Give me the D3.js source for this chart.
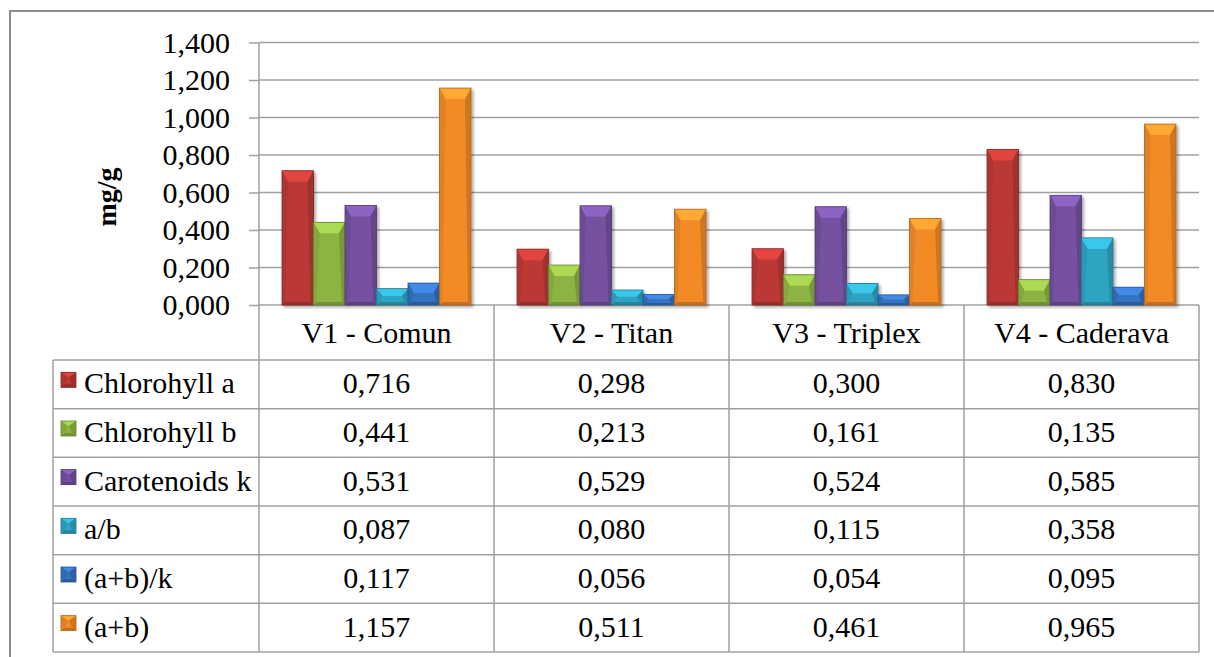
<!DOCTYPE html>
<html>
<head>
<meta charset="utf-8">
<script src="https://cdn.jsdelivr.net/npm/d3@7"></script>
</head>
<body style="margin:0">
<svg></svg>
<script>
const categories = ['V1 - Comun', 'V2 - Titan', 'V3 - Triplex', 'V4 - Caderava'];
const seriesNames = ['Chlorohyll a', 'Chlorohyll b', 'Carotenoids k', 'a/b', '(a+b)/k', '(a+b)'];
const chlorophyllA = [0.716, 0.298, 0.300, 0.830];
const chlorophyllB = [0.441, 0.213, 0.161, 0.135];
const carotenoids = [0.531, 0.529, 0.524, 0.585];
const ratioAB = [0.087, 0.080, 0.115, 0.358];
const ratioABK = [0.117, 0.056, 0.054, 0.095];
const sumAB = [1.157, 0.511, 0.461, 0.965];
const yTicks = [0, 0.2, 0.4, 0.6, 0.8, 1.0, 1.2, 1.4];
const colors = ['#BA3935', '#8DB443', '#7451A0', '#2FA4C3', '#3472BF', '#F28B28'];

const seriesValues = [chlorophyllA, chlorophyllB, carotenoids, ratioAB, ratioABK, sumAB];

const width = 1214;
const height = 657;
const plotLeft = 259, plotRight = 1199, plotTop = 42.5, plotBottom = 305;
const tableLeft = 53, headerBottom = 360, tableBottom = 652;
const fontName = 'Liberation Serif';

const locale = d3.formatLocale({ decimal: ',', thousands: '.', grouping: [3], currency: ['', ''] });
const fmt = locale.format('.3f');

const svg = d3.select('svg').attr('width', width).attr('height', height)
    .attr('font-family', fontName);

// serif text helper
function label(sel) {
    return sel.attr('font-family', fontName).style('font-family', `"${fontName}"`);
}

const defs = svg.append('defs');
const shadow = defs.append('filter').attr('id', 'shadow')
    .attr('x', '-20%').attr('y', '-20%').attr('width', '150%').attr('height', '150%');
shadow.append('feGaussianBlur').attr('in', 'SourceAlpha').attr('stdDeviation', 1.8).attr('result', 'blur');
shadow.append('feOffset').attr('in', 'blur').attr('dx', 2).attr('dy', 2).attr('result', 'off');
shadow.append('feComponentTransfer').attr('in', 'off').attr('result', 'soft')
    .append('feFuncA').attr('type', 'linear').attr('slope', 0.35);
const merge = shadow.append('feMerge');
merge.append('feMergeNode').attr('in', 'soft');
merge.append('feMergeNode').attr('in', 'SourceGraphic');

// outer frame
svg.append('rect').attr('x', 10).attr('y', 11).attr('width', width).attr('height', height)
    .attr('fill', 'none').attr('stroke', '#8c8c8c').attr('stroke-width', 2);

const x0 = d3.scaleBand().domain(categories).range([plotLeft, plotRight]);
const x1 = d3.scaleBand().domain(seriesNames).range([0, x0.bandwidth()]).paddingOuter(0.73);
const y = d3.scaleLinear().domain([0, 1.4]).range([plotBottom, plotTop]);
const rowY = d3.scaleBand().domain(seriesNames).range([headerBottom, tableBottom]);

// gridlines
svg.append('g').selectAll('line').data(yTicks).enter().append('line')
    .attr('x1', plotLeft).attr('x2', plotRight)
    .attr('y1', d => y(d)).attr('y2', d => y(d))
    .attr('stroke', '#a0a0a0').attr('stroke-width', 1.5);

// y axis
const yAxis = svg.append('g').attr('transform', `translate(${plotLeft},0)`)
    .call(d3.axisLeft(y).tickValues(yTicks).tickSize(10).tickPadding(19).tickFormat(fmt))
    .attr('font-family', fontName).attr('font-size', 30);
yAxis.select('.domain').remove();
yAxis.selectAll('.tick line').attr('stroke', '#a0a0a0').attr('stroke-width', 1.5);
label(yAxis.selectAll('.tick text')).attr('font-size', 30).attr('fill', '#000').attr('dy', '0.33em');

label(svg.append('text'))
    .attr('transform', 'translate(116,197) rotate(-90)')
    .attr('text-anchor', 'middle')
    .attr('font-size', 28).attr('font-weight', 'bold')
    .text('mg/g');

// bevelled bar
function bevel(g, x, yTop, w, h, c, bSide, bTop, bBot) {
    const col = d3.color(c);
    const bt = Math.min(bTop, h * 0.45);
    const bb = Math.min(bBot, h * 0.2);
    const b = Math.min(bSide, w * 0.3);
    const grp = g.append('g');
    grp.append('rect').attr('x', x).attr('y', yTop).attr('width', w).attr('height', h)
        .attr('fill', c);
    const pts = (arr) => arr.map(p => p.join(',')).join(' ');
    grp.append('polygon').attr('points', pts([[x, yTop], [x + w, yTop], [x + w - b - 3, yTop + bt], [x + b + 3, yTop + bt]]))
        .attr('fill', col.brighter(0.55));
    grp.append('polygon').attr('points', pts([[x, yTop], [x + b + 3, yTop + bt], [x + b, yTop + h - bb], [x, yTop + h]]))
        .attr('fill', col.darker(0.2));
    grp.append('polygon').attr('points', pts([[x + w, yTop], [x + w - b - 3, yTop + bt], [x + w - b, yTop + h - bb], [x + w, yTop + h]]))
        .attr('fill', col.darker(0.45));
    grp.append('polygon').attr('points', pts([[x, yTop + h], [x + b, yTop + h - bb], [x + w - b, yTop + h - bb], [x + w, yTop + h]]))
        .attr('fill', col.darker(0.6));
    grp.append('rect').attr('x', x).attr('y', yTop).attr('width', w).attr('height', h)
        .attr('fill', 'none').attr('stroke', col.darker(0.9)).attr('stroke-width', 0.8);
    return grp;
}

// bars
const bars = svg.append('g').attr('filter', 'url(#shadow)');
categories.forEach((cat, ci) => {
    seriesNames.forEach((s, si) => {
        const v = seriesValues[si][ci];
        const bx = x0(cat) + x1(s);
        bevel(bars, bx, y(v), x1.bandwidth(), y(0) - y(v), colors[si], 3, 11, 3);
    });
});

// data table
const table = svg.append('g').attr('font-family', fontName);
const lineColor = '#a0a0a0';

// axis line running down through the table
table.append('line').attr('x1', plotLeft).attr('x2', plotLeft)
    .attr('y1', plotTop).attr('y2', tableBottom)
    .attr('stroke', lineColor).attr('stroke-width', 1.5);
// column separators
table.selectAll('.col').data(categories.slice(1).concat(['end'])).enter().append('line')
    .attr('x1', (d, i) => x0(categories[0]) + x0.bandwidth() * (i + 1))
    .attr('x2', (d, i) => x0(categories[0]) + x0.bandwidth() * (i + 1))
    .attr('y1', plotBottom).attr('y2', tableBottom)
    .attr('stroke', lineColor).attr('stroke-width', 1.5);
table.append('line').attr('x1', tableLeft).attr('x2', tableLeft)
    .attr('y1', headerBottom).attr('y2', tableBottom)
    .attr('stroke', lineColor).attr('stroke-width', 1.5);
// row lines
const rowLines = [headerBottom].concat(seriesNames.map(s => rowY(s) + rowY.bandwidth()));
table.selectAll('.row').data(rowLines).enter().append('line')
    .attr('x1', tableLeft).attr('x2', plotRight)
    .attr('y1', d => d).attr('y2', d => d)
    .attr('stroke', lineColor).attr('stroke-width', 1.5);

// header labels
label(table.selectAll('.hdr').data(categories).enter().append('text'))
    .attr('x', d => x0(d) + x0.bandwidth() / 2)
    .attr('y', (plotBottom + headerBottom) / 2)
    .attr('dy', '0.35em')
    .attr('text-anchor', 'middle').attr('font-size', 30)
    .text(d => d);

// legend column
seriesNames.forEach((s, si) => {
    const cy = rowY(s) + rowY.bandwidth() / 2;
    bevel(table, 61, cy - 12, 15, 15, colors[si], 4, 5, 3);
    label(table.append('text')).attr('x', 84).attr('y', cy).attr('dy', '0.3em')
        .attr('font-size', 30).text(s);
    categories.forEach((cat, ci) => {
        label(table.append('text'))
            .attr('x', x0(cat) + x0.bandwidth() / 2)
            .attr('y', cy).attr('dy', '0.3em')
            .attr('text-anchor', 'middle').attr('font-size', 30)
            .text(fmt(seriesValues[si][ci]));
    });
});
</script>
</body>
</html>
